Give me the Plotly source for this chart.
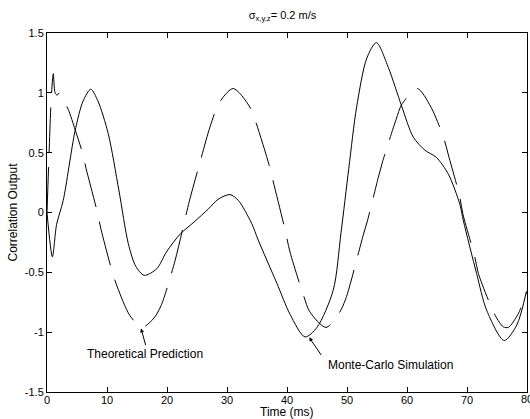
import plotly.graph_objects as go

# Theoretical prediction (dashed)
t_theory = [0, 0.35, 0.7, 1.05, 1.35, 1.7, 2.0, 2.4, 3.55, 4.7, 5.9, 6.5, 8.4, 9.0, 10.9, 11.7,
            13.8, 15.8, 17.7, 19.0, 21.3, 21.9, 23.7, 25.5, 27.2, 28.8, 31.05, 33.7, 34.7, 37.0,
            37.5, 39.7, 40.5, 42.8, 43.8, 46.5, 48.7, 49.8, 52.7, 53.4, 55.2, 55.9, 58.2, 59.1,
            61.7, 64.0, 66.2, 66.9, 68.8, 69.3, 71.3, 71.9, 74.7, 76.05, 76.9, 78.5, 79.8, 80]
v_theory = [0.0, 0.5, 0.95, 1.16, 1.0, 0.98, 1.0, 0.97, 0.86, 0.69, 0.5, 0.37, 0.0, -0.14, -0.5, -0.62,
            -0.86, -0.96, -0.89, -0.78, -0.41, -0.29, 0.09, 0.42, 0.72, 0.925, 1.036, 0.89, 0.77, 0.40,
            0.30, -0.15, -0.33, -0.70, -0.83, -0.96, -0.84, -0.72, -0.19, -0.07, 0.29, 0.42, 0.78, 0.90,
            1.036, 0.88, 0.61, 0.48, 0.13, -0.01, -0.37, -0.51, -0.86, -0.955, -0.96, -0.85, -0.69, -0.66]

# Monte-Carlo simulation (solid)
t_sim = [0, 0.9, 1.6, 2.7, 4.67, 6.0, 7.3, 8.5, 10.2, 12.0, 13.55, 14.8, 16.2, 18.3, 19.9,
         22.2, 24.5, 26.9, 28.5, 30.5, 31.9, 34.1, 35.2, 38.3, 40.5, 43.0, 45.0, 47.7, 49.0, 50.3,
         51.6, 53.3, 54.9, 56.9, 59.1, 61.05, 63.0, 64.9, 66.9, 68.8, 69.4, 71.6, 73.3, 76.2, 78.3, 79.9]
v_sim = [0.0, -0.37, -0.1, 0.1, 0.68, 0.93, 1.03, 0.93, 0.66, 0.18, -0.26, -0.45, -0.525, -0.47, -0.33,
         -0.18, -0.08, 0.03, 0.11, 0.15, 0.10, -0.09, -0.23, -0.59, -0.85, -1.04, -0.96, -0.65, -0.17, 0.37,
         0.88, 1.29, 1.42, 1.21, 0.89, 0.63, 0.52, 0.46, 0.32, 0.07, -0.07, -0.51, -0.82, -1.07, -0.94, -0.66]

x_ticks = [0, 10, 20, 30, 40, 50, 60, 70, 80]
y_ticks = [-1.5, -1, -0.5, 0, 0.5, 1, 1.5]
y_tick_labels = ["-1.5", "-1", "-0.5", "0", "0.5", "1", "1.5"]

FONT = "Liberation Sans, Arial, sans-serif"

fig = go.Figure()
fig.add_trace(go.Scatter(x=t_theory, y=v_theory, mode="lines",
                         line=dict(color="black", width=1, dash="45px,15px", shape="spline", smoothing=0.8),
                         showlegend=False, hoverinfo="skip"))
fig.add_trace(go.Scatter(x=t_sim, y=v_sim, mode="lines",
                         line=dict(color="black", width=1, shape="spline", smoothing=0.8),
                         showlegend=False, hoverinfo="skip"))

axis_common = dict(showgrid=False, zeroline=False, showline=True, linecolor="black", linewidth=1,
                   mirror="ticks", ticks="inside", ticklen=5, tickcolor="black", tickwidth=1,
                   tickfont=dict(family=FONT, size=11, color="black"))

fig.update_xaxes(range=[0, 80], tickvals=x_ticks[:-1], ticktext=[str(v) for v in x_ticks[:-1]],
                 ticklabelstandoff=-2, **axis_common)
fig.update_yaxes(range=[-1.5, 1.5], tickvals=y_ticks, ticktext=y_tick_labels,
                 title=dict(text="Correlation Output", font=dict(family=FONT, size=12, color="black"), standoff=4),
                 **axis_common)

# last x tick label (cut by the right edge, as in the reference)
fig.add_annotation(x=x_ticks[-1], y=0, xref="x", yref="paper", yanchor="top", yshift=1,
                   text=str(x_ticks[-1]), showarrow=False, font=dict(family=FONT, size=11, color="black"))
# x-axis title
fig.add_annotation(x=0.5, y=0, xref="paper", yref="paper", yanchor="top", yshift=-12, borderpad=0,
                   text="Time (ms)", showarrow=False, font=dict(family=FONT, size=12, color="black"))

fig.add_annotation(x=15.67, y=-0.969, xref="x", yref="y", text="", showarrow=True,
                   ax=5, ay=18, arrowhead=2, arrowsize=0.8, arrowwidth=1, arrowcolor="black")
fig.add_annotation(x=43.7, y=-1.044, xref="x", yref="y", text="", showarrow=True,
                   ax=13, ay=19, arrowhead=2, arrowsize=0.8, arrowwidth=1, arrowcolor="black")
fig.add_annotation(x=16.4, y=-1.183, xref="x", yref="y", text="Theoretical Prediction", showarrow=False,
                   font=dict(family=FONT, size=12, color="black"))
fig.add_annotation(x=57.33, y=-1.275, xref="x", yref="y", text="Monte-Carlo Simulation", showarrow=False,
                   font=dict(family=FONT, size=12, color="black"))

fig.update_layout(
    width=530, height=419,
    margin=dict(l=47, r=3, t=33, b=27),
    paper_bgcolor="white", plot_bgcolor="white",
    hovermode=False,
    title=dict(text="σ<sub>x,y,z</sub>= 0.2 m/s", x=0.533, xanchor="center", y=0.965, yanchor="middle",
               font=dict(family=FONT, size=11, color="black")),
)

fig.write_html("out.html", config={"displayModeBar": False},
               post_script="document.body.style.margin='0';document.body.style.padding='0';document.body.style.overflow='hidden';")
